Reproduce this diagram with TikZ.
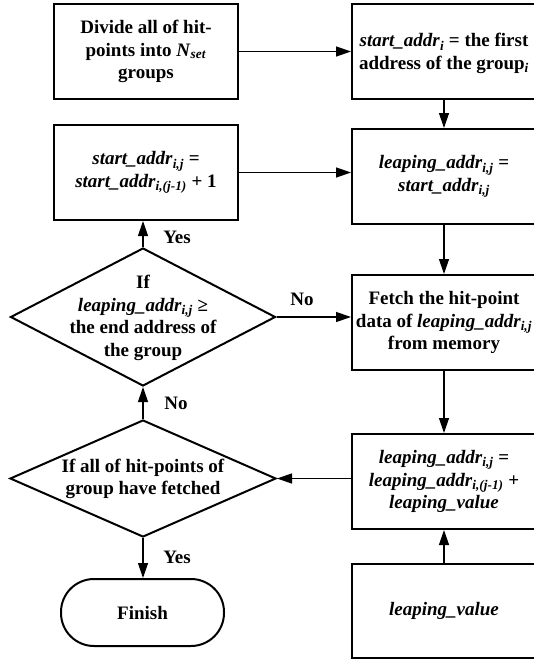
\documentclass[tikz,border=0pt]{standalone}
\usepackage{fontspec}
\setmainfont{Liberation Serif}
\usetikzlibrary{shapes.geometric,arrows.meta}
\newcommand{\vv}[1]{\textit{#1}}
\newcommand{\sbs}[1]{\textsubscript{\textit{#1}}}
\begin{document}
\begin{tikzpicture}[x=1pt,y=-1pt,
  font=\fontsize{19}{22.5}\selectfont\bfseries,
  box/.style={draw, line width=2pt, minimum width=184pt, minimum height=95pt, align=center, inner sep=2pt},
  dia/.style={draw, diamond, line width=2pt, inner sep=0pt},
  txt/.style={align=center, inner sep=0pt},
  conn/.style={line width=1.3pt, -{Triangle[length=15pt,width=10pt]}}]
\useasboundingbox (0,0) rectangle (534,664);
% boxes
\node[box] (b1) at (146,51.5) {Divide all of hit-\\points into \vv{N}\sbs{set}\\groups};
\node[box, text depth=0pt] (b2) at (444,51.5) {\vv{start\_addr}\sbs{i} = the first\\address of the group\sbs{i}};
\node[box] (b3) at (146,172.5) {\vv{start\_addr}\sbs{i,j} =\\\vv{start\_addr}\sbs{i,(j-1)} + 1};
\node[box] (b4) at (444,176.5) {\vv{leaping\_addr}\sbs{i,j} =\\\vv{start\_addr}\sbs{i,j}};
\node[box] (b5) at (444,322.5) {Fetch the hit-point\\data of \vv{leaping\_addr}\sbs{i,j}\\from memory};
\node[box] (b6) at (444,481.5) {\vv{leaping\_addr}\sbs{i,j} =\\\vv{leaping\_addr}\sbs{i,(j-1)} +\\\vv{leaping\_value}};
\node[box, minimum height=94pt] (b7) at (444,611) {\vv{leaping\_value}};
% decisions
\node[dia, minimum width=265pt, minimum height=138pt] (d1) at (143,317) {};
\node[txt] (d1t) at (143,318) {If\\\vv{leaping\_addr}\sbs{i,j} ≥\\the end address of\\the group};
\node[dia, minimum width=266pt, minimum height=117pt] (d2) at (143,478.5) {};
\node[txt] (d2t) at (143,479) {If all of hit-points of\\group have fetched};
% terminal
\node[draw, line width=2pt, rounded corners=33pt, minimum width=163pt, minimum height=67pt] (fin) at (142.5,612.5) {Finish};
% connectors
\draw[conn] (b1.east) -- (b1.east -| b2.west);
\draw[conn] (b2.south) -- (b4.north);
\draw[conn] (b3.east) -- (b3.east -| b4.west);
\draw[conn] (b4.south) -- (b5.north);
\draw[conn] (d1.east) -- (d1.east -| b5.west);
\draw[conn] (d1.north) -- (d1.north |- b3.south);
\draw[conn] (d2.north) -- (d1.south);
\draw[conn] (b5.south) -- (b6.north);
\draw[conn] (b6.west |- d2.east) -- (d2.east);
\draw[conn] (b7.north) -- (b6.south);
\draw[conn] (d2.south) -- (d2.south |- fin.north);
% labels
\node[txt] (l1) at (177,237) {Yes};
\node[txt] (l2) at (302,299) {No};
\node[txt] (l3) at (176,403) {No};
\node[txt] (l4) at (177,557) {Yes};
\end{tikzpicture}
\end{document}
